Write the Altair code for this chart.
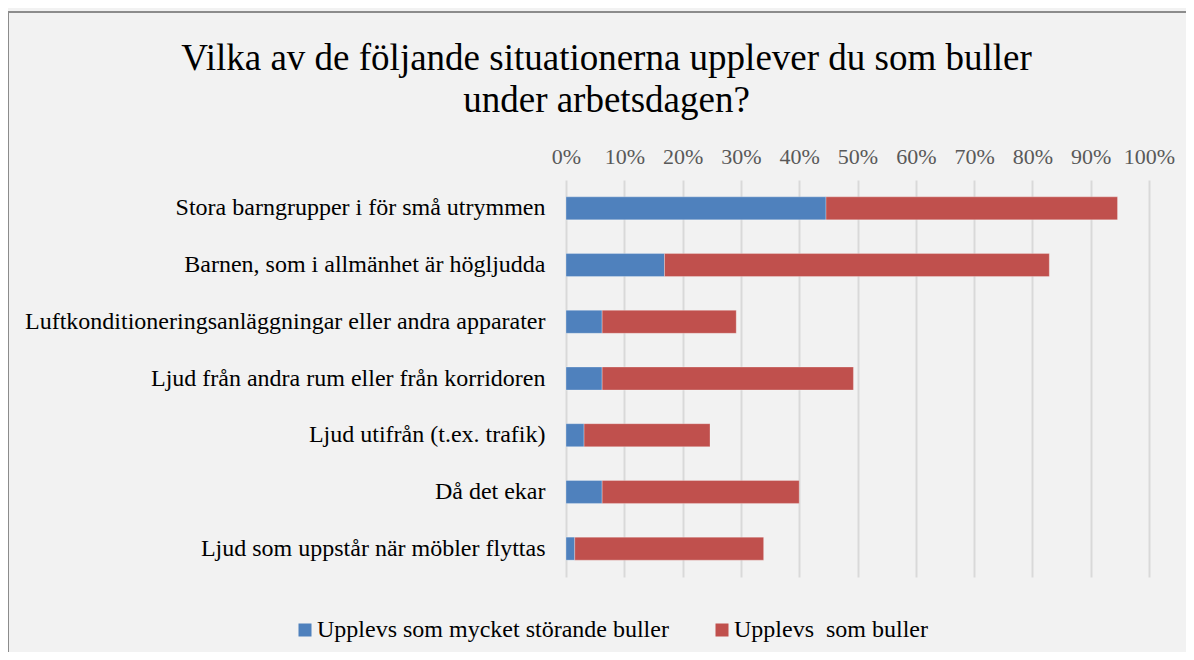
import altair as alt
import pandas as pd

categories = [
    "Stora barngrupper i för små utrymmen",
    "Barnen, som i allmänhet är högljudda",
    "Luftkonditioneringsanläggningar eller andra apparater",
    "Ljud från andra rum eller från korridoren",
    "Ljud utifrån (t.ex. trafik)",
    "Då det ekar",
    "Ljud som uppstår när möbler flyttas",
]
series_names = ["Upplevs som mycket störande buller", "Upplevs\u00a0 som buller"]
very_disturbing = [44.6, 16.9, 6.2, 6.2, 3.1, 6.2, 1.5]
noise = [50.0, 66.0, 23.0, 43.1, 21.6, 33.8, 32.4]
colors = ["#4f81bd", "#c0504d"]
tick_values = [i / 10 for i in range(11)]

rows = []
for c, a, b in zip(categories, very_disturbing, noise):
    rows.append({"cat": c, "series": series_names[0], "val": a / 100, "ord": 0})
    rows.append({"cat": c, "series": series_names[1], "val": b / 100, "ord": 1})
df = pd.DataFrame(rows)

FONT = "Liberation Serif"
W, H = 583, 397
PAD_L, PAD_T = 558, 172

bars = alt.Chart(df).mark_bar(size=23, stroke="#ffffff", strokeOpacity=0.35, strokeWidth=0.8).encode(
    y=alt.Y("cat:N", sort=categories, title=None,
            axis=alt.Axis(labelFont=FONT, labelFontSize=24, labelColor="#000000",
                          labelPadding=21, ticks=False, domain=False, grid=False,
                          labelLimit=600)),
    x=alt.X("val:Q", stack="zero", title=None,
            scale=alt.Scale(domain=[0, 1], nice=False),
            axis=alt.Axis(orient="top", values=tick_values, format=".0%",
                          labelFont=FONT, labelFontSize=22, labelColor="#595959",
                          labelPadding=12, ticks=False, domain=False, labelOverlap=False,
                          labelFlush=False,
                          grid=True, gridColor="#d9d9d9", gridWidth=2)),
    color=alt.Color("series:N", sort=series_names,
                    scale=alt.Scale(domain=series_names, range=colors),
                    legend=alt.Legend(orient="none", direction="horizontal",
                                      legendX=-273, legendY=438, title=None,
                                      symbolType="square", symbolSize=169,
                                      symbolStrokeWidth=0, labelFont=FONT,
                                      labelFontSize=24, labelColor="#000000",
                                      labelOffset=0, columnPadding=41,
                                      labelLimit=600, padding=0)),
    order=alt.Order("ord:Q"),
)

border_data = alt.Data(values=[{"k": 1}])
left_border = alt.Chart(border_data).mark_rule(color="#8c8c8c", strokeWidth=2).encode(
    x=alt.value(-PAD_L), y=alt.value(-PAD_T + 4), y2=alt.value(H + 80))
top_border = alt.Chart(border_data).mark_rule(color="#8c8c8c", strokeWidth=2).encode(
    x=alt.value(-PAD_L), x2=alt.value(W + 40), y=alt.value(-PAD_T + 4))

chart = alt.layer(bars, left_border, top_border).properties(
    width=W, height=H,
    padding={"left": PAD_L, "top": PAD_T, "right": 37, "bottom": 75},
    autosize=alt.AutoSizeParams(type="none"),
    background="#f2f2f2",
    title=alt.TitleParams(
        text=["Vilka av de följande situationerna upplever du som buller", "under arbetsdagen?"],
        font=FONT, fontSize=37, fontWeight="normal", color="#000000",
        anchor="middle", frame="group", dx=-251, dy=137, offset=28, lineHeight=42),
).configure_view(stroke=None)

chart.save("out.html", embed_options={"renderer": "svg", "actions": False})
